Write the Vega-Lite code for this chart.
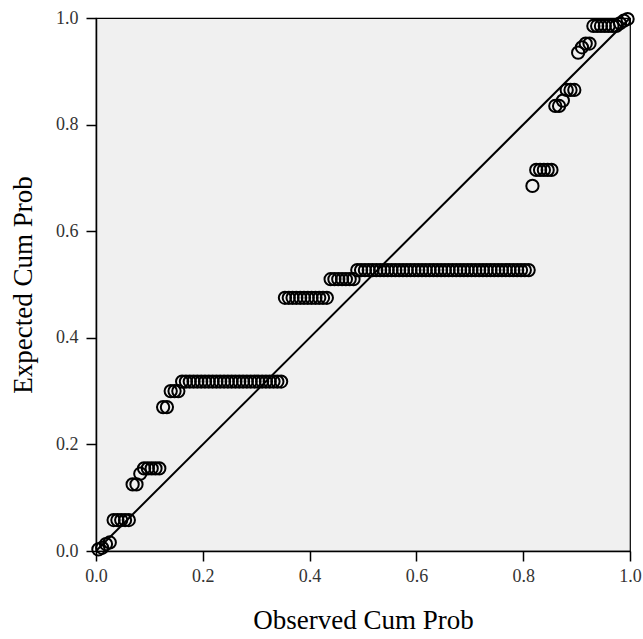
{
  "$schema": "https://vega.github.io/schema/vega-lite/v6.json",
  "width": 534,
  "height": 533,
  "autosize": "none",
  "padding": {"left": 96, "top": 18, "right": 13, "bottom": 88},
  "background": "white",
  "config": {
    "view": {"fill": "#F0F0F0", "stroke": "#000000", "strokeWidth": 1.2},
    "axis": {
      "domainColor": "#000000", "domainWidth": 1.5,
      "tickColor": "#000000", "tickWidth": 1.5, "tickSize": 10,
      "labelFont": "Liberation Serif", "labelFontSize": 18, "labelColor": "#333333",
      "titleFont": "Liberation Serif", "titleFontSize": 27, "titleFontWeight": "normal", "titleColor": "#000000",
      "grid": false
    }
  },
  "datasets": {
    "pts": [
      {"obs": 0.0045, "exp": 0.003}, {"obs": 0.0116, "exp": 0.006}, {"obs": 0.0187, "exp": 0.013}, {"obs": 0.0258, "exp": 0.016},
      {"obs": 0.0330, "exp": 0.058}, {"obs": 0.0401, "exp": 0.058}, {"obs": 0.0472, "exp": 0.058}, {"obs": 0.0544, "exp": 0.058}, {"obs": 0.0615, "exp": 0.058},
      {"obs": 0.0686, "exp": 0.125}, {"obs": 0.0758, "exp": 0.125},
      {"obs": 0.0829, "exp": 0.145},
      {"obs": 0.0900, "exp": 0.155}, {"obs": 0.0971, "exp": 0.155}, {"obs": 0.1043, "exp": 0.155}, {"obs": 0.1114, "exp": 0.155}, {"obs": 0.1185, "exp": 0.155},
      {"obs": 0.1257, "exp": 0.27}, {"obs": 0.1328, "exp": 0.27},
      {"obs": 0.1399, "exp": 0.30}, {"obs": 0.1471, "exp": 0.30}, {"obs": 0.1542, "exp": 0.30},
      {"obs": 0.1613, "exp": 0.318}, {"obs": 0.1684, "exp": 0.318}, {"obs": 0.1756, "exp": 0.318}, {"obs": 0.1827, "exp": 0.318}, {"obs": 0.1898, "exp": 0.318},
      {"obs": 0.1970, "exp": 0.318}, {"obs": 0.2041, "exp": 0.318}, {"obs": 0.2112, "exp": 0.318}, {"obs": 0.2184, "exp": 0.318}, {"obs": 0.2255, "exp": 0.318},
      {"obs": 0.2326, "exp": 0.318}, {"obs": 0.2398, "exp": 0.318}, {"obs": 0.2469, "exp": 0.318}, {"obs": 0.2540, "exp": 0.318}, {"obs": 0.2611, "exp": 0.318},
      {"obs": 0.2683, "exp": 0.318}, {"obs": 0.2754, "exp": 0.318}, {"obs": 0.2825, "exp": 0.318}, {"obs": 0.2897, "exp": 0.318}, {"obs": 0.2968, "exp": 0.318},
      {"obs": 0.3039, "exp": 0.318}, {"obs": 0.3111, "exp": 0.318}, {"obs": 0.3182, "exp": 0.318}, {"obs": 0.3253, "exp": 0.318}, {"obs": 0.3324, "exp": 0.318},
      {"obs": 0.3396, "exp": 0.318}, {"obs": 0.3467, "exp": 0.318},
      {"obs": 0.3538, "exp": 0.475}, {"obs": 0.3610, "exp": 0.475}, {"obs": 0.3681, "exp": 0.475}, {"obs": 0.3752, "exp": 0.475}, {"obs": 0.3824, "exp": 0.475},
      {"obs": 0.3895, "exp": 0.475}, {"obs": 0.3966, "exp": 0.475}, {"obs": 0.4037, "exp": 0.475}, {"obs": 0.4109, "exp": 0.475}, {"obs": 0.4180, "exp": 0.475},
      {"obs": 0.4251, "exp": 0.475}, {"obs": 0.4323, "exp": 0.475},
      {"obs": 0.4394, "exp": 0.51}, {"obs": 0.4465, "exp": 0.51}, {"obs": 0.4537, "exp": 0.51}, {"obs": 0.4608, "exp": 0.51}, {"obs": 0.4679, "exp": 0.51},
      {"obs": 0.4750, "exp": 0.51}, {"obs": 0.4822, "exp": 0.51},
      {"obs": 0.4893, "exp": 0.527}, {"obs": 0.4964, "exp": 0.527}, {"obs": 0.5036, "exp": 0.527}, {"obs": 0.5107, "exp": 0.527}, {"obs": 0.5178, "exp": 0.527},
      {"obs": 0.5250, "exp": 0.527}, {"obs": 0.5321, "exp": 0.527}, {"obs": 0.5392, "exp": 0.527}, {"obs": 0.5463, "exp": 0.527}, {"obs": 0.5535, "exp": 0.527},
      {"obs": 0.5606, "exp": 0.527}, {"obs": 0.5677, "exp": 0.527}, {"obs": 0.5749, "exp": 0.527}, {"obs": 0.5820, "exp": 0.527}, {"obs": 0.5891, "exp": 0.527},
      {"obs": 0.5963, "exp": 0.527}, {"obs": 0.6034, "exp": 0.527}, {"obs": 0.6105, "exp": 0.527}, {"obs": 0.6176, "exp": 0.527}, {"obs": 0.6248, "exp": 0.527},
      {"obs": 0.6319, "exp": 0.527}, {"obs": 0.6390, "exp": 0.527}, {"obs": 0.6462, "exp": 0.527}, {"obs": 0.6533, "exp": 0.527}, {"obs": 0.6604, "exp": 0.527},
      {"obs": 0.6676, "exp": 0.527}, {"obs": 0.6747, "exp": 0.527}, {"obs": 0.6818, "exp": 0.527}, {"obs": 0.6889, "exp": 0.527}, {"obs": 0.6961, "exp": 0.527},
      {"obs": 0.7032, "exp": 0.527}, {"obs": 0.7103, "exp": 0.527}, {"obs": 0.7175, "exp": 0.527}, {"obs": 0.7246, "exp": 0.527}, {"obs": 0.7317, "exp": 0.527},
      {"obs": 0.7389, "exp": 0.527}, {"obs": 0.7460, "exp": 0.527}, {"obs": 0.7531, "exp": 0.527}, {"obs": 0.7602, "exp": 0.527}, {"obs": 0.7674, "exp": 0.527},
      {"obs": 0.7745, "exp": 0.527}, {"obs": 0.7816, "exp": 0.527}, {"obs": 0.7888, "exp": 0.527}, {"obs": 0.7959, "exp": 0.527}, {"obs": 0.8030, "exp": 0.527},
      {"obs": 0.8102, "exp": 0.527},
      {"obs": 0.8173, "exp": 0.685},
      {"obs": 0.8244, "exp": 0.715}, {"obs": 0.8316, "exp": 0.715}, {"obs": 0.8387, "exp": 0.715}, {"obs": 0.8458, "exp": 0.715}, {"obs": 0.8529, "exp": 0.715},
      {"obs": 0.8601, "exp": 0.835}, {"obs": 0.8672, "exp": 0.835}, {"obs": 0.8743, "exp": 0.845}, {"obs": 0.8815, "exp": 0.865}, {"obs": 0.8886, "exp": 0.865}, {"obs": 0.8957, "exp": 0.865},
      {"obs": 0.9029, "exp": 0.935}, {"obs": 0.9100, "exp": 0.945}, {"obs": 0.9171, "exp": 0.952}, {"obs": 0.9242, "exp": 0.952},
      {"obs": 0.9314, "exp": 0.985}, {"obs": 0.9385, "exp": 0.985}, {"obs": 0.9456, "exp": 0.985}, {"obs": 0.9528, "exp": 0.985}, {"obs": 0.9599, "exp": 0.985},
      {"obs": 0.9670, "exp": 0.985}, {"obs": 0.9742, "exp": 0.985},
      {"obs": 0.9813, "exp": 0.99}, {"obs": 0.9884, "exp": 0.995}, {"obs": 0.9955, "exp": 0.998}
    ],
    "diag": [{"x0": 0, "y0": 0, "x1": 1, "y1": 1}]
  },
  "layer": [
    {
      "data": {"name": "diag"},
      "mark": {"type": "rule", "color": "#000000", "strokeWidth": 2},
      "encoding": {
        "x": {"field": "x0", "type": "quantitative"},
        "y": {"field": "y0", "type": "quantitative"},
        "x2": {"field": "x1"},
        "y2": {"field": "y1"}
      }
    },
    {
      "data": {"name": "pts"},
      "mark": {"type": "point", "shape": "circle", "filled": false, "stroke": "#000000", "strokeWidth": 2, "size": 150, "opacity": 1, "clip": false},
      "encoding": {
        "x": {
          "field": "obs", "type": "quantitative",
          "scale": {"domain": [0, 1], "nice": false, "zero": false},
          "axis": {"title": "Observed Cum Prob", "values": [0, 0.2, 0.4, 0.6, 0.8, 1.0], "format": ".1f", "labelPadding": 6, "titlePadding": 22, "labelFlush": false}
        },
        "y": {
          "field": "exp", "type": "quantitative",
          "scale": {"domain": [0, 1], "nice": false, "zero": false},
          "axis": {"title": "Expected Cum Prob", "values": [0, 0.2, 0.4, 0.6, 0.8, 1.0], "format": ".1f", "labelPadding": 8, "titlePadding": 18, "labelFlush": false}
        }
      }
    }
  ]
}
